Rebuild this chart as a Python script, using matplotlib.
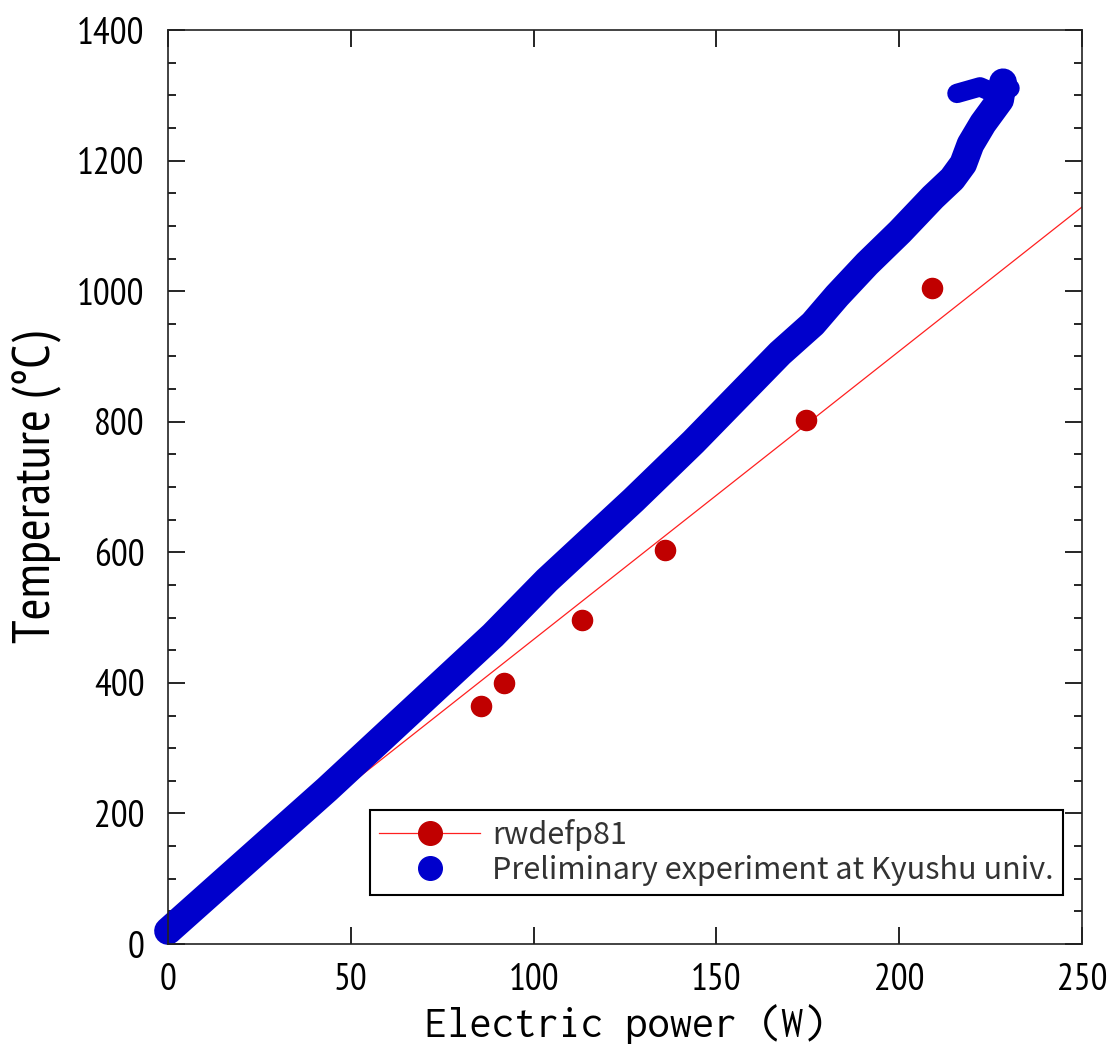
import numpy as np
import matplotlib
matplotlib.use('Agg')
import matplotlib.pyplot as plt
from matplotlib.lines import Line2D

# red: rwdefp81 measurements
red_power = [85.6, 91.9, 113.2, 135.9, 174.5, 209.0]
red_temp = [364, 400, 496, 603, 802, 1005]
# red straight line (fit) end points
fit_power = [0, 250]
fit_temp = [25, 1129]

# blue: preliminary experiment (centre of the dense band)
blue_power = [0, 43.5, 88.9, 103.6, 127.3, 143.7, 167.4, 176.4, 183.0, 191.2,
              200.2, 209.2, 214.5, 217.5, 219.5, 222.9, 227.6, 228.4]
blue_temp = [20, 237, 473, 557, 680, 769, 905, 950, 993, 1042,
             1091, 1144, 1172, 1195, 1225, 1257, 1293, 1320]
hook_power = [228.4, 230.3, 225.0, 222.1, 215.8]
hook_temp = [1320, 1311, 1306, 1313, 1303]

narrow = ['PT Sans Narrow', 'Liberation Sans', 'DejaVu Sans']
mono = ['Inconsolata', 'DejaVu Sans Mono']
legend_font = ['Noto Sans CJK JP', 'DejaVu Sans']

fig = plt.figure(figsize=(11.18, 10.48), dpi=100)
ax = fig.add_axes([0.1503, 0.0992, 0.8175, 0.8721])

blue = '#0000cc'
dark_red = '#c00000'

ax.plot(fit_power, fit_temp, color='#ff2020', lw=0.9, zorder=1)
ax.plot(blue_power, blue_temp, color=blue, lw=20, solid_capstyle='round',
        solid_joinstyle='round', zorder=2, clip_on=False)
ax.plot(hook_power, hook_temp, color=blue, lw=14, solid_capstyle='round',
        solid_joinstyle='round', zorder=2, clip_on=False)
ax.plot(red_power, red_temp, 'o', color=dark_red, ms=14.5, mec=dark_red, zorder=3)

ax.set_xlim(0, 250)
ax.set_ylim(0, 1400)
ax.set_xticks(np.arange(0, 251, 50))
ax.set_yticks(np.arange(0, 1401, 200))
ax.set_yticks(np.arange(0, 1401, 50), minor=True)
ax.tick_params(which='both', direction='in', top=True, right=True, width=1.2)
ax.tick_params(which='major', length=12)
ax.tick_params(which='minor', length=6)
ax.tick_params(axis='y', pad=17)
ax.tick_params(axis='x', pad=14)
for lab in ax.get_xticklabels() + ax.get_yticklabels():
    lab.set_fontfamily(narrow)
    lab.set_fontsize(27)
for sp in ax.spines.values():
    sp.set_linewidth(1.2)
    sp.set_color('#222222')

ax.set_xlabel('Electric power (W)', fontfamily=mono, fontsize=32, labelpad=4)
ax.set_ylabel('Temperature (°C)', fontfamily=narrow, fontsize=38, labelpad=11)

handles = [
    Line2D([], [], color='#ff2020', lw=0.9, marker='o', ms=17, mfc=dark_red, mec=dark_red),
    Line2D([], [], ls='none', marker='o', ms=17, mfc=blue, mec=blue),
]
leg = ax.legend(handles, ['rwdefp81', 'Preliminary experiment at Kyushu univ.'],
                loc='lower left', bbox_to_anchor=(0.221, 0.054), borderaxespad=0,
                prop={'family': legend_font, 'size': 22},
                handlelength=3.3, handletextpad=0.4, labelspacing=0.12,
                borderpad=0.3, fancybox=False, edgecolor='black', framealpha=1)
leg.get_frame().set_linewidth(1.5)
for t in leg.get_texts():
    t.set_color('#333333')

fig.savefig('out.png', dpi=100)
